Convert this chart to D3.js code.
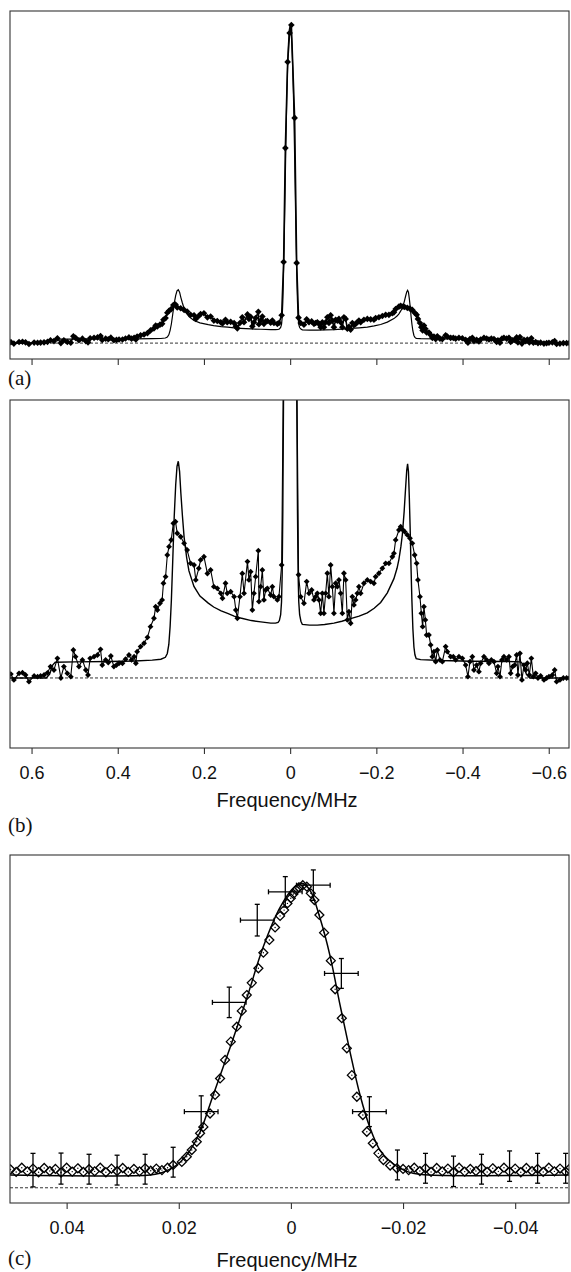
<!DOCTYPE html>
<html>
<head>
<meta charset="utf-8">
<script src="https://cdn.jsdelivr.net/npm/d3@7"></script>
<style>
  body { margin: 0; background: #fff; }
  svg { display: block; }
</style>
</head>
<body>
<div id="chart"></div>
<script>
// measured spectrum [frequency MHz, intensity % of central peak] - panels (a) and (b)
const specData = [
  [0.648, 0.3], [0.641, -0.15], [0.629, 0.36], [0.621, 0.41], [0.614, 0.23], [0.606, -0.29], [0.594, 0.16],
  [0.586, 0.1], [0.579, 0.16], [0.571, 0.23], [0.563, 0.4], [0.556, 0.88], [0.548, 0.62], [0.540, 1.52],
  [0.532, 0.0], [0.525, 0.88], [0.517, 0.36], [0.509, 0.1], [0.503, 2.17], [0.498, 1.65], [0.490, 0.88],
  [0.482, 1.4], [0.474, 0.62], [0.469, 0.23], [0.464, 1.52], [0.455, 1.65], [0.447, 1.78], [0.440, 2.22],
  [0.436, 1.0], [0.428, 1.4], [0.422, 1.2], [0.416, 1.7], [0.409, 0.88], [0.403, 1.0], [0.397, 1.14],
  [0.389, 1.14], [0.382, 1.45], [0.374, 1.78], [0.368, 1.4], [0.362, 1.65], [0.358, 1.14], [0.355, 2.04],
  [0.347, 2.43], [0.339, 2.69], [0.331, 3.15], [0.324, 3.98], [0.316, 4.63], [0.312, 5.53], [0.308, 5.27],
  [0.302, 5.79], [0.297, 6.05], [0.294, 7.34], [0.289, 7.85], [0.285, 9.53], [0.281, 10.18], [0.276, 10.7],
  [0.271, 11.99], [0.266, 12.12], [0.262, 11.22], [0.254, 10.95], [0.246, 10.44], [0.239, 9.92], [0.231, 8.89],
  [0.223, 8.76], [0.219, 7.6], [0.212, 8.5],
  [0.2077, 9.15], [0.200, 9.4], [0.192, 8.1], [0.1845, 8.37], [0.177, 7.08], [0.169, 6.95], [0.161, 6.56],
  [0.157, 6.18], [0.150, 7.34], [0.146, 6.56], [0.138, 6.69], [0.130, 6.3], [0.126, 5.27], [0.1225, 4.63],
  [0.1165, 6.3], [0.111, 8.1], [0.107, 6.56], [0.099, 9.02], [0.0956, 7.6], [0.0916, 8.24], [0.0877, 5.27],
  [0.084, 6.56], [0.080, 7.85], [0.0738, 9.87], [0.0724, 5.92], [0.0684, 7.08], [0.0645, 8.37], [0.0608, 6.05],
  [0.0568, 6.82], [0.0529, 6.95], [0.0452, 6.43], [0.0413, 7.08], [0.0376, 6.3], [0.0297, 6.05], [0.026, 6.3],
  [0.0197, 8.76],
  [0.0151, 25.5], [0.0111, 61.3], [0.0058, 88.4], [0.0012, 97.5], [-0.0028, 100], [-0.0104, 70.8],
  [-0.0151, 25.2], [-0.0195, 8.0],
  [-0.0244, 6.3], [-0.032, 5.79], [-0.0383, 7.47], [-0.0437, 6.56], [-0.0499, 6.82], [-0.0553, 6.05],
  [-0.0592, 6.3], [-0.0631, 6.56], [-0.0669, 6.05], [-0.0708, 5.01], [-0.0747, 6.56], [-0.0784, 5.01],
  [-0.0824, 6.56], [-0.0863, 8.12], [-0.090, 6.3], [-0.094, 8.76], [-0.0979, 7.08], [-0.1016, 5.01],
  [-0.1056, 7.34], [-0.1095, 7.08], [-0.1132, 7.6], [-0.1172, 6.56], [-0.1211, 5.01], [-0.1248, 8.12],
  [-0.1288, 7.6], [-0.1327, 4.5], [-0.1364, 5.14], [-0.1404, 4.24], [-0.1443, 6.3], [-0.148, 5.66],
  [-0.152, 6.05], [-0.1559, 6.56], [-0.1596, 7.08], [-0.1636, 6.56], [-0.1712, 7.34], [-0.1791, 7.6],
  [-0.1868, 7.47], [-0.1944, 7.34], [-0.1984, 7.85], [-0.206, 8.12], [-0.2139, 8.5], [-0.2216, 8.89],
  [-0.2292, 8.89], [-0.2371, 9.4], [-0.2408, 9.66], [-0.2448, 10.7], [-0.2524, 11.47], [-0.2564, 11.73],
  [-0.2617, 11.47], [-0.2657, 11.34], [-0.2719, 11.09], [-0.278, 10.83], [-0.2835, 10.44], [-0.2889, 9.53],
  [-0.2935, 8.89], [-0.2965, 7.6], [-0.3012, 6.3], [-0.3044, 5.01], [-0.3074, 3.98], [-0.3104, 5.53],
  [-0.3137, 4.5], [-0.3167, 3.33], [-0.322, 3.33], [-0.326, 2.56], [-0.33, 1.65], [-0.3336, 2.04],
  [-0.3376, 1.26], [-0.3415, 2.17], [-0.3476, 1.4], [-0.3531, 1.26], [-0.3608, 2.43], [-0.3647, 2.04],
  [-0.3724, 1.65], [-0.3786, 1.65], [-0.384, 1.4], [-0.3916, 1.65], [-0.3995, 1.52], [-0.4072, 1.0],
  [-0.4125, 0.1], [-0.4172, 1.26], [-0.4227, 1.65], [-0.4265, 0.62], [-0.4327, 1.0], [-0.438, 0.49],
  [-0.442, 1.14], [-0.4497, 1.65], [-0.4559, 1.4], [-0.4613, 1.14], [-0.4668, 1.4], [-0.4729, 1.26],
  [-0.4791, 0.36], [-0.4821, 0.88], [-0.4868, 0.1], [-0.4914, 1.4], [-0.496, 1.65], [-0.5023, 1.4],
  [-0.5077, 1.65], [-0.5116, 0.36], [-0.5162, 0.88], [-0.5209, 1.0], [-0.5255, 1.78], [-0.5285, 0.23],
  [-0.5332, 1.91], [-0.5378, -0.15], [-0.5425, 1.0], [-0.5464, 0.62], [-0.5503, 1.14], [-0.555, 0.23],
  [-0.5596, 1.52], [-0.5643, 0.1], [-0.5696, 0.36], [-0.575, 0.0], [-0.5812, 0.16], [-0.5889, -0.15],
  [-0.5951, 0.0], [-0.6005, 0.1], [-0.6084, 0.23], [-0.6137, 0.62], [-0.6183, -0.29], [-0.626, -0.15],
  [-0.6339, 0.0], [-0.6415, 0.0], [-0.6478, 0.0]
];

// simulated spectrum (solid line), same units
const specFit = [
  [0.65, 0], [0.566, 0], [0.558, 0.3], [0.551, 1.0], [0.545, 1.22], [0.50, 1.25], [0.42, 1.28], [0.36, 1.32],
  [0.32, 1.38], [0.30, 1.45], [0.2895, 1.6], [0.285, 1.9], [0.2815, 2.6], [0.2785, 4.0], [0.2756, 6.0],
  [0.2725, 9.0], [0.269, 12.5], [0.2655, 15.0], [0.2625, 16.4], [0.2595, 16.8], [0.2565, 16.0], [0.2535, 14.3],
  [0.250, 12.6], [0.246, 10.9], [0.240, 9.3], [0.2348, 8.3], [0.2232, 7.1], [0.2093, 6.35], [0.19, 5.8],
  [0.1775, 5.5], [0.16, 5.2], [0.145, 5.0], [0.13, 4.8], [0.115, 4.65], [0.09, 4.45], [0.068, 4.35],
  [0.045, 4.25], [0.034, 4.25], [0.028, 4.3], [0.025, 4.45], [0.022, 4.9], [0.020, 5.9], [0.0185, 8.0],
  [0.017, 13], [0.0155, 21], [0.014, 30], [0.012, 46], [0.010, 62], [0.008, 76], [0.006, 86.5], [0.004, 94],
  [0.002, 98.5], [0.0, 100], [-0.002, 98.5], [-0.004, 94], [-0.006, 86.5], [-0.008, 76], [-0.010, 62],
  [-0.012, 46], [-0.014, 30], [-0.0155, 21], [-0.017, 13], [-0.0185, 8.0], [-0.020, 5.9], [-0.022, 4.9],
  [-0.025, 4.4], [-0.0283, 4.15], [-0.045, 4.1], [-0.0631, 4.1], [-0.08, 4.15], [-0.1016, 4.25], [-0.12, 4.4],
  [-0.1404, 4.6], [-0.16, 4.8], [-0.179, 5.05], [-0.195, 5.4], [-0.21, 5.85], [-0.2255, 6.6], [-0.2408, 7.7],
  [-0.248, 8.5], [-0.2524, 9.2], [-0.257, 10.2], [-0.2603, 11.1], [-0.2645, 12.9], [-0.268, 14.8],
  [-0.2705, 16.1], [-0.2725, 16.6], [-0.2745, 16.0], [-0.2765, 14.0], [-0.2785, 11.5], [-0.2805, 8.5],
  [-0.2825, 6.0], [-0.2848, 3.8], [-0.2872, 2.4], [-0.2895, 1.8], [-0.2925, 1.5], [-0.3028, 1.42],
  [-0.35, 1.35], [-0.42, 1.3], [-0.50, 1.28], [-0.535, 1.25], [-0.542, 1.0], [-0.548, 0.3], [-0.556, 0],
  [-0.647, 0]
];

// panel (c): central line, open diamonds [frequency MHz, normalised intensity]
const lineData = [
  [0.0500, 0.060], [0.0490, 0.052], [0.0480, 0.066], [0.0470, 0.054], [0.0460, 0.063], [0.0450, 0.051],
  [0.0440, 0.065], [0.0430, 0.055], [0.0420, 0.062], [0.0410, 0.050], [0.0400, 0.066], [0.0390, 0.053],
  [0.0380, 0.064], [0.0370, 0.052], [0.0360, 0.061], [0.0350, 0.054], [0.0340, 0.066], [0.0330, 0.051],
  [0.0320, 0.063], [0.0310, 0.055], [0.0300, 0.065], [0.0290, 0.052], [0.0280, 0.062], [0.0270, 0.054],
  [0.0260, 0.064], [0.0250, 0.056], [0.0240, 0.063], [0.0230, 0.058], [0.0220, 0.066],
  [0.0210, 0.075], [0.01946, 0.085], [0.01857, 0.102], [0.01768, 0.124], [0.01679, 0.151], [0.0162, 0.179],
  [0.01561, 0.200], [0.01442, 0.244], [0.01352, 0.305], [0.01263, 0.359], [0.01174, 0.420], [0.01072, 0.480],
  [0.00965, 0.529], [0.00876, 0.581], [0.00787, 0.633], [0.00698, 0.673], [0.0058, 0.721], [0.00491, 0.772],
  [0.00384, 0.814], [0.00282, 0.855], [0.00193, 0.893], [0.00121, 0.912], [0.00062, 0.934], [0.00002, 0.951],
  [-0.00045, 0.965], [-0.00093, 0.978], [-0.00141, 0.987], [-0.00212, 0.994], [-0.00284, 0.989],
  [-0.00355, 0.967], [-0.00419, 0.945], [-0.00508, 0.896], [-0.00592, 0.838], [-0.00712, 0.746],
  [-0.00789, 0.652], [-0.00908, 0.557], [-0.00997, 0.458], [-0.01087, 0.370], [-0.01176, 0.299],
  [-0.01283, 0.239], [-0.01354, 0.184], [-0.01461, 0.146], [-0.01561, 0.113], [-0.0165, 0.091],
  [-0.0177, 0.073], [-0.01889, 0.064],
  [-0.0200, 0.062], [-0.0210, 0.058], [-0.0220, 0.066], [-0.0230, 0.055], [-0.0240, 0.064], [-0.0250, 0.052],
  [-0.0260, 0.065], [-0.0270, 0.054], [-0.0280, 0.063], [-0.0290, 0.051], [-0.0300, 0.066], [-0.0310, 0.053],
  [-0.0320, 0.062], [-0.0330, 0.055], [-0.0340, 0.065], [-0.0350, 0.052], [-0.0360, 0.064], [-0.0370, 0.054],
  [-0.0380, 0.066], [-0.0390, 0.053], [-0.0400, 0.063], [-0.0410, 0.051], [-0.0420, 0.065], [-0.0430, 0.055],
  [-0.0440, 0.062], [-0.0450, 0.052], [-0.0460, 0.066], [-0.0470, 0.054], [-0.0480, 0.063], [-0.0490, 0.053],
  [-0.0496, 0.061]
];

const lineFit = [
  [0.0501, 0.042], [0.0251, 0.042], [0.02334, 0.048], [0.02155, 0.061], [0.01976, 0.084], [0.01798, 0.123],
  [0.01619, 0.183], [0.01387, 0.304], [0.01084, 0.461], [0.00781, 0.626], [0.00496, 0.790], [0.00193, 0.921],
  [-0.00039, 0.984], [-0.00194, 1.0], [-0.00341, 0.977], [-0.0052, 0.885], [-0.00699, 0.761], [-0.00877, 0.600],
  [-0.01056, 0.445], [-0.01234, 0.304], [-0.01413, 0.196], [-0.01591, 0.123], [-0.0177, 0.087],
  [-0.01948, 0.064], [-0.0218, 0.048], [-0.02483, 0.042], [-0.0496, 0.042]
];

// error bars of panel (c)
const errFreq = [0.046, 0.041, 0.036, 0.031, 0.026, 0.021, 0.016, 0.011, 0.006, 0.001,
  -0.004, -0.009, -0.014, -0.019, -0.024, -0.029, -0.034, -0.039, -0.044, -0.049];
const errVal = [0.058, 0.063, 0.061, 0.058, 0.061, 0.084, 0.250, 0.609, 0.879, 0.972,
  0.994, 0.704, 0.250, 0.075, 0.064, 0.054, 0.061, 0.071, 0.064, 0.064];
const errFreqHalf = [0, 0, 0, 0, 0, 0, 0.003, 0.003, 0.003, 0.003, 0.003, 0.003, 0.003, 0, 0, 0, 0, 0, 0, 0];
const errValHalf = [0.055, 0.051, 0.049, 0.049, 0.049, 0.049, 0.052, 0.05, 0.052, 0.05,
  0.05, 0.049, 0.049, 0.049, 0.049, 0.05, 0.049, 0.05, 0.049, 0.049];

const ticksWide = [0.6, 0.4, 0.2, 0, -0.2, -0.4, -0.6];
const ticksNarrow = [0.04, 0.02, 0, -0.02, -0.04];
const panelNames = ["(a)", "(b)", "(c)"];
const axisTitle = "Frequency/MHz";

const W = 571, H = 1272;
const left = 10, right = 569;
const sans = "'Liberation Sans', Arial, Helvetica, sans-serif";
const serif = "'Liberation Serif', 'Times New Roman', serif";

const svg = d3.select("#chart").append("svg")
  .attr("width", W)
  .attr("height", H);

// diamond marker (square turned 45 degrees)
const diamond = {
  draw(ctx, size) {
    const r = Math.sqrt(size / 2);
    ctx.moveTo(0, -r);
    ctx.lineTo(r, 0);
    ctx.lineTo(0, r);
    ctx.lineTo(-r, 0);
    ctx.closePath();
  }
};

const minus = s => s.replace("-", "\u2212");

function makePanel(id, top, bottom, xDomain, yDomain, ticks, fmt) {
  const x = d3.scaleLinear().domain(xDomain).range([left, right]);
  const y = d3.scaleLinear().domain(yDomain).range([bottom, top]);

  svg.append("clipPath").attr("id", "clip-" + id)
    .append("rect")
    .attr("x", left).attr("y", top)
    .attr("width", right - left).attr("height", bottom - top);

  const g = svg.append("g");
  const plot = g.append("g").attr("clip-path", "url(#clip-" + id + ")");

  // zero line
  plot.append("line")
    .attr("x1", left).attr("x2", right)
    .attr("y1", y(0)).attr("y2", y(0))
    .attr("stroke", "#000")
    .attr("stroke-width", 0.8)
    .attr("stroke-dasharray", "3,2");

  // frame
  g.append("rect")
    .attr("x", left).attr("y", top)
    .attr("width", right - left).attr("height", bottom - top)
    .attr("fill", "none")
    .attr("stroke", "#333")
    .attr("stroke-width", 1.1);

  const axis = d3.axisBottom(x)
    .tickValues(ticks)
    .tickSize(6)
    .tickSizeOuter(0)
    .tickPadding(12)
    .tickFormat(fmt);

  const ax = g.append("g")
    .attr("transform", "translate(0," + bottom + ")")
    .call(axis);
  ax.select(".domain").remove();
  ax.selectAll(".tick line").attr("stroke", "#333").attr("stroke-width", 1.1);
  ax.selectAll(".tick text")
    .attr("font-family", sans)
    .attr("font-size", 18)
    .attr("fill", "#111");

  return { x, y, plot, g };
}

// ---------- panel (a) ----------
const pa = makePanel("a", 11, 359, [0.65, -0.647], [-5, 104.4], ticksWide, () => "");

pa.plot.append("path")
  .datum(specFit)
  .attr("fill", "none")
  .attr("stroke", "#000")
  .attr("stroke-width", 1.2)
  .attr("d", d3.line().x(d => pa.x(d[0])).y(d => pa.y(d[1])));

pa.plot.append("path")
  .datum(specData)
  .attr("fill", "none")
  .attr("stroke", "#000")
  .attr("stroke-width", 1.6)
  .attr("d", d3.line().x(d => pa.x(d[0])).y(d => pa.y(d[1])));

pa.plot.selectAll(".dotA")
  .data(specData)
  .enter()
  .append("path")
  .attr("class", "dotA")
  .attr("transform", d => "translate(" + pa.x(d[0]) + "," + pa.y(d[1]) + ")")
  .attr("d", d3.symbol().type(diamond).size(22))
  .attr("fill", "#000");

// ---------- panel (b) ----------
const pb = makePanel("b", 400, 748, [0.65, -0.647], [-5.43, 21.55], ticksWide,
  d => minus(d3.format("")(d)));

pb.plot.append("path")
  .datum(specFit)
  .attr("fill", "none")
  .attr("stroke", "#000")
  .attr("stroke-width", 1.4)
  .attr("d", d3.line().x(d => pb.x(d[0])).y(d => pb.y(d[1])));

pb.plot.append("path")
  .datum(specData)
  .attr("fill", "none")
  .attr("stroke", "#000")
  .attr("stroke-width", 1.1)
  .attr("d", d3.line().x(d => pb.x(d[0])).y(d => pb.y(d[1])));

pb.plot.selectAll(".dotB")
  .data(specData)
  .enter()
  .append("path")
  .attr("class", "dotB")
  .attr("transform", d => "translate(" + pb.x(d[0]) + "," + pb.y(d[1]) + ")")
  .attr("d", d3.symbol().type(diamond).size(17))
  .attr("fill", "#000");

// ---------- panel (c) ----------
const pc = makePanel("c", 855, 1203, [0.0501, -0.0496], [-0.05, 1.093], ticksNarrow,
  d => minus(d3.format("")(d)));

pc.plot.append("path")
  .datum(lineFit)
  .attr("fill", "none")
  .attr("stroke", "#000")
  .attr("stroke-width", 1.5)
  .attr("d", d3.line().curve(d3.curveCatmullRom).x(d => pc.x(d[0])).y(d => pc.y(d[1])));

pc.plot.selectAll(".dotC")
  .data(lineData)
  .enter()
  .append("path")
  .attr("class", "dotC")
  .attr("transform", d => "translate(" + pc.x(d[0]) + "," + pc.y(d[1]) + ")")
  .attr("d", d3.symbol().type(diamond).size(40))
  .attr("fill", "none")
  .attr("stroke", "#000")
  .attr("stroke-width", 1.3);

pc.plot.selectAll(".dotCc")
  .data(lineData)
  .enter()
  .append("circle")
  .attr("cx", d => pc.x(d[0]))
  .attr("cy", d => pc.y(d[1]))
  .attr("r", 0.7)
  .attr("fill", "#000");

// error bars
const cap = 2.5;
errFreq.forEach((f, i) => {
  const cx = pc.x(f), cy = pc.y(errVal[i]);
  const y1 = pc.y(errVal[i] + errValHalf[i]), y2 = pc.y(errVal[i] - errValHalf[i]);
  const eb = pc.plot.append("g").attr("stroke", "#000").attr("stroke-width", 1.3);
  eb.append("line").attr("x1", cx).attr("x2", cx).attr("y1", y1).attr("y2", y2);
  eb.append("line").attr("x1", cx - cap).attr("x2", cx + cap).attr("y1", y1).attr("y2", y1);
  eb.append("line").attr("x1", cx - cap).attr("x2", cx + cap).attr("y1", y2).attr("y2", y2);
  if (errFreqHalf[i] > 0) {
    const x1 = pc.x(f + errFreqHalf[i]), x2 = pc.x(f - errFreqHalf[i]);
    eb.append("line").attr("x1", x1).attr("x2", x2).attr("y1", cy).attr("y2", cy);
    eb.append("line").attr("x1", x1).attr("x2", x1).attr("y1", cy - cap).attr("y2", cy + cap);
    eb.append("line").attr("x1", x2).attr("x2", x2).attr("y1", cy - cap).attr("y2", cy + cap);
  }
});

// ---------- labels ----------
const labelY = [385, 832, 1265];
panelNames.forEach((t, i) => {
  svg.append("text")
    .attr("x", 8)
    .attr("y", labelY[i])
    .attr("font-family", serif)
    .attr("font-size", 21)
    .attr("fill", "#111")
    .text(t);
});

[807, 1267].forEach(yy => {
  svg.append("text")
    .attr("x", 287)
    .attr("y", yy)
    .attr("text-anchor", "middle")
    .attr("font-family", sans)
    .attr("font-size", 20)
    .attr("fill", "#111")
    .text(axisTitle);
});
</script>
</body>
</html>
